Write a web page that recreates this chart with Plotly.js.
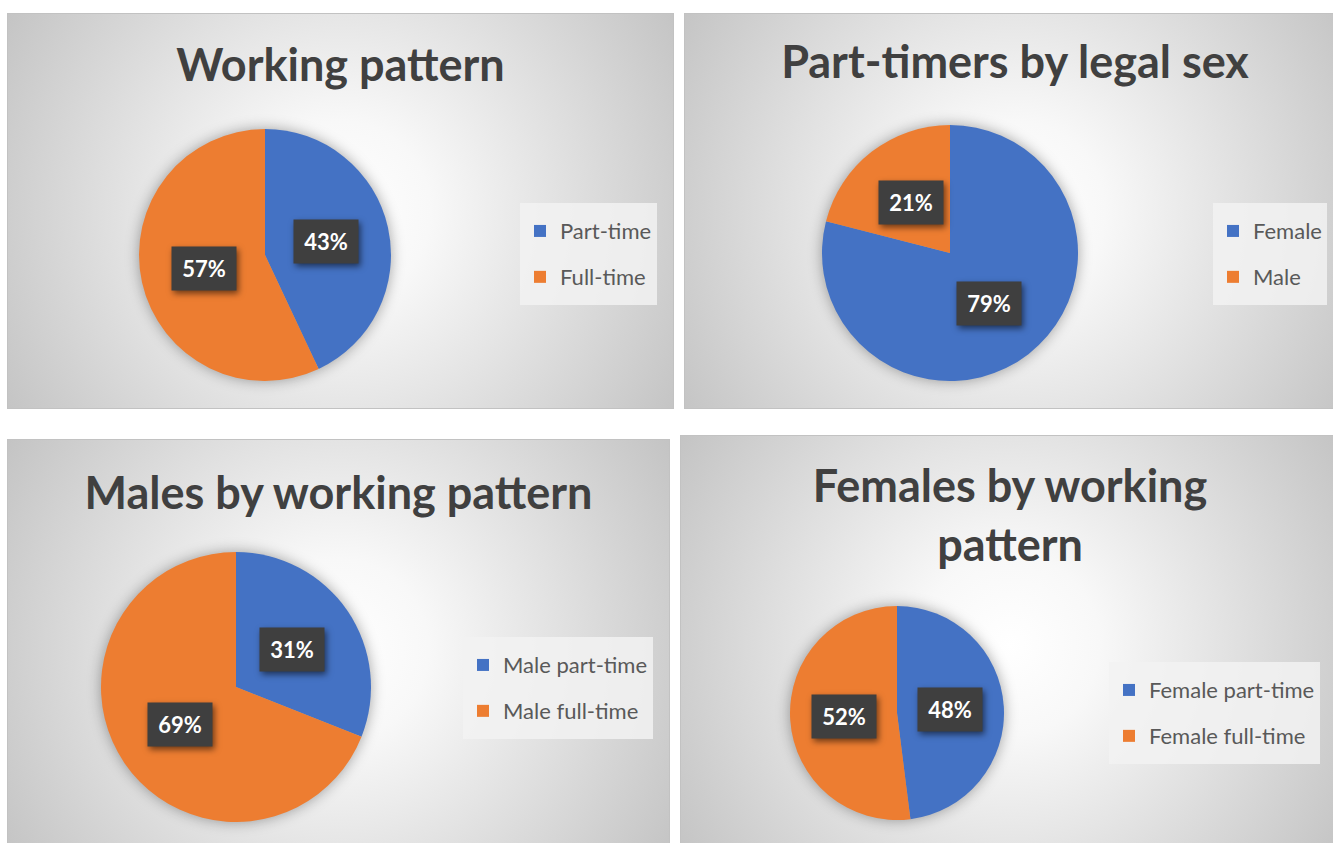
<!DOCTYPE html>
<html><head><meta charset="utf-8">
<script src="https://cdn.plot.ly/plotly-3.0.1.min.js"></script>
<style>
html,body{margin:0;padding:0;background:#ffffff;width:1333px;height:843px;overflow:hidden;position:relative;}
.panel{position:absolute;box-sizing:border-box;border:1px solid #c2c2c2;overflow:hidden;
 background:radial-gradient(circle at 50% 50%, #ffffff 0px, #f8f8f8 90px, #c4c4c4 390px);}
.panel .pielayer{filter:drop-shadow(0 0 7px rgba(0,0,0,0.35));}
.panel .annotation rect.bg{filter:drop-shadow(2px 3px 3px rgba(0,0,0,0.55));}
</style></head><body>
<div id="p1" class="panel" style="left:7px;top:13px;width:667px;height:396px"></div>
<div id="p2" class="panel" style="left:684px;top:13px;width:662px;height:396px"></div>
<div id="p3" class="panel" style="left:7px;top:439px;width:663px;height:420px"></div>
<div id="p4" class="panel" style="left:680px;top:435px;width:660px;height:420px"></div>
<script>
// ---- data ----
const titles = ["Working pattern", "Part-timers by legal sex", "Males by working pattern", "Females by working<br>pattern"];
const workingLabels = ["Part-time", "Full-time"];
const workingValues = [43, 57];
const partTimerLabels = ["Female", "Male"];
const partTimerValues = [79, 21];
const maleLabels = ["Male part-time", "Male full-time"];
const maleValues = [31, 69];
const femaleLabels = ["Female part-time", "Female full-time"];
const femaleValues = [48, 52];
const sliceColors = ["#4472C4", "#ED7D31"];

// ---- layout geometry (pixels inside each panel) ----
const panels = [
  {id:"p1", w:665, h:394, cx:257, cy:241, r:126, titleTop:35, legX:512, legY:189, labels:workingLabels, values:workingValues, title:titles[0]},
  {id:"p2", w:660, h:394, cx:265, cy:239, r:128, titleTop:32, legX:528, legY:189, labels:partTimerLabels, values:partTimerValues, title:titles[1]},
  {id:"p3", w:661, h:418, cx:228, cy:247, r:135, titleTop:37, legX:455, legY:197, labels:maleLabels, values:maleValues, title:titles[2]},
  {id:"p4", w:658, h:418, cx:216, cy:277, r:107, titleTop:66, legX:428, legY:226, labels:femaleLabels, values:femaleValues, title:titles[3]}
];

panels.forEach(p => {
  const W = p.w, H = p.h;
  const total = p.values.reduce((a, b) => a + b, 0);
  // annotation boxes placed at half radius on each slice's bisector (clockwise from 12 o'clock)
  let cum = 0;
  const annotations = p.values.map(v => {
    const ang = 2 * Math.PI * (cum + v / 2) / total;
    cum += v;
    const px = p.cx + 0.5 * p.r * Math.sin(ang);
    const py = p.cy - 0.5 * p.r * Math.cos(ang);
    return {
      x: px / W, y: 1 - py / H, xref: "paper", yref: "paper",
      xanchor: "center", yanchor: "middle", showarrow: false,
      text: Math.round(v / total * 100) + "%",
      font: {family: "Lato", size: 22, color: "#ffffff", weight: "bold"},
      bgcolor: "#3f3f3f", borderpad: 0, width: 64, height: 43
    };
  });
  const trace = {
    type: "pie", sort: false, direction: "clockwise", rotation: 0,
    labels: p.labels.map(l => '<span style="font-size:22px;baseline-shift:5px">' + l + '</span>'),
    values: p.values,
    marker: {colors: sliceColors, line: {width: 0}},
    textinfo: "none", hoverinfo: "label+percent",
    domain: {x: [(p.cx - p.r) / W, (p.cx + p.r) / W], y: [1 - (p.cy + p.r) / H, 1 - (p.cy - p.r) / H]}
  };
  const layout = {
    width: W, height: H, margin: {l: 0, r: 0, t: 0, b: 0},
    paper_bgcolor: "rgba(0,0,0,0)", plot_bgcolor: "rgba(0,0,0,0)",
    title: {text: p.title, x: 0.5, xanchor: "center", xref: "container", y: 1 - p.titleTop / H, yanchor: "top", yref: "container",
      font: {family: "Lato", size: 45, color: "#404040", weight: "bold"}},
    showlegend: true,
    legend: {x: p.legX / W, y: 1 - p.legY / H, xanchor: "left", yanchor: "top", xref: "paper", yref: "paper",
      bgcolor: "rgba(242,242,242,0.85)", borderwidth: 0,
      font: {family: "Lato", size: 33, color: "#595959"}},
    annotations: annotations
  };
  Plotly.newPlot(p.id, [trace], layout, {displayModeBar: false, staticPlot: true});
});
</script>
</body></html>
